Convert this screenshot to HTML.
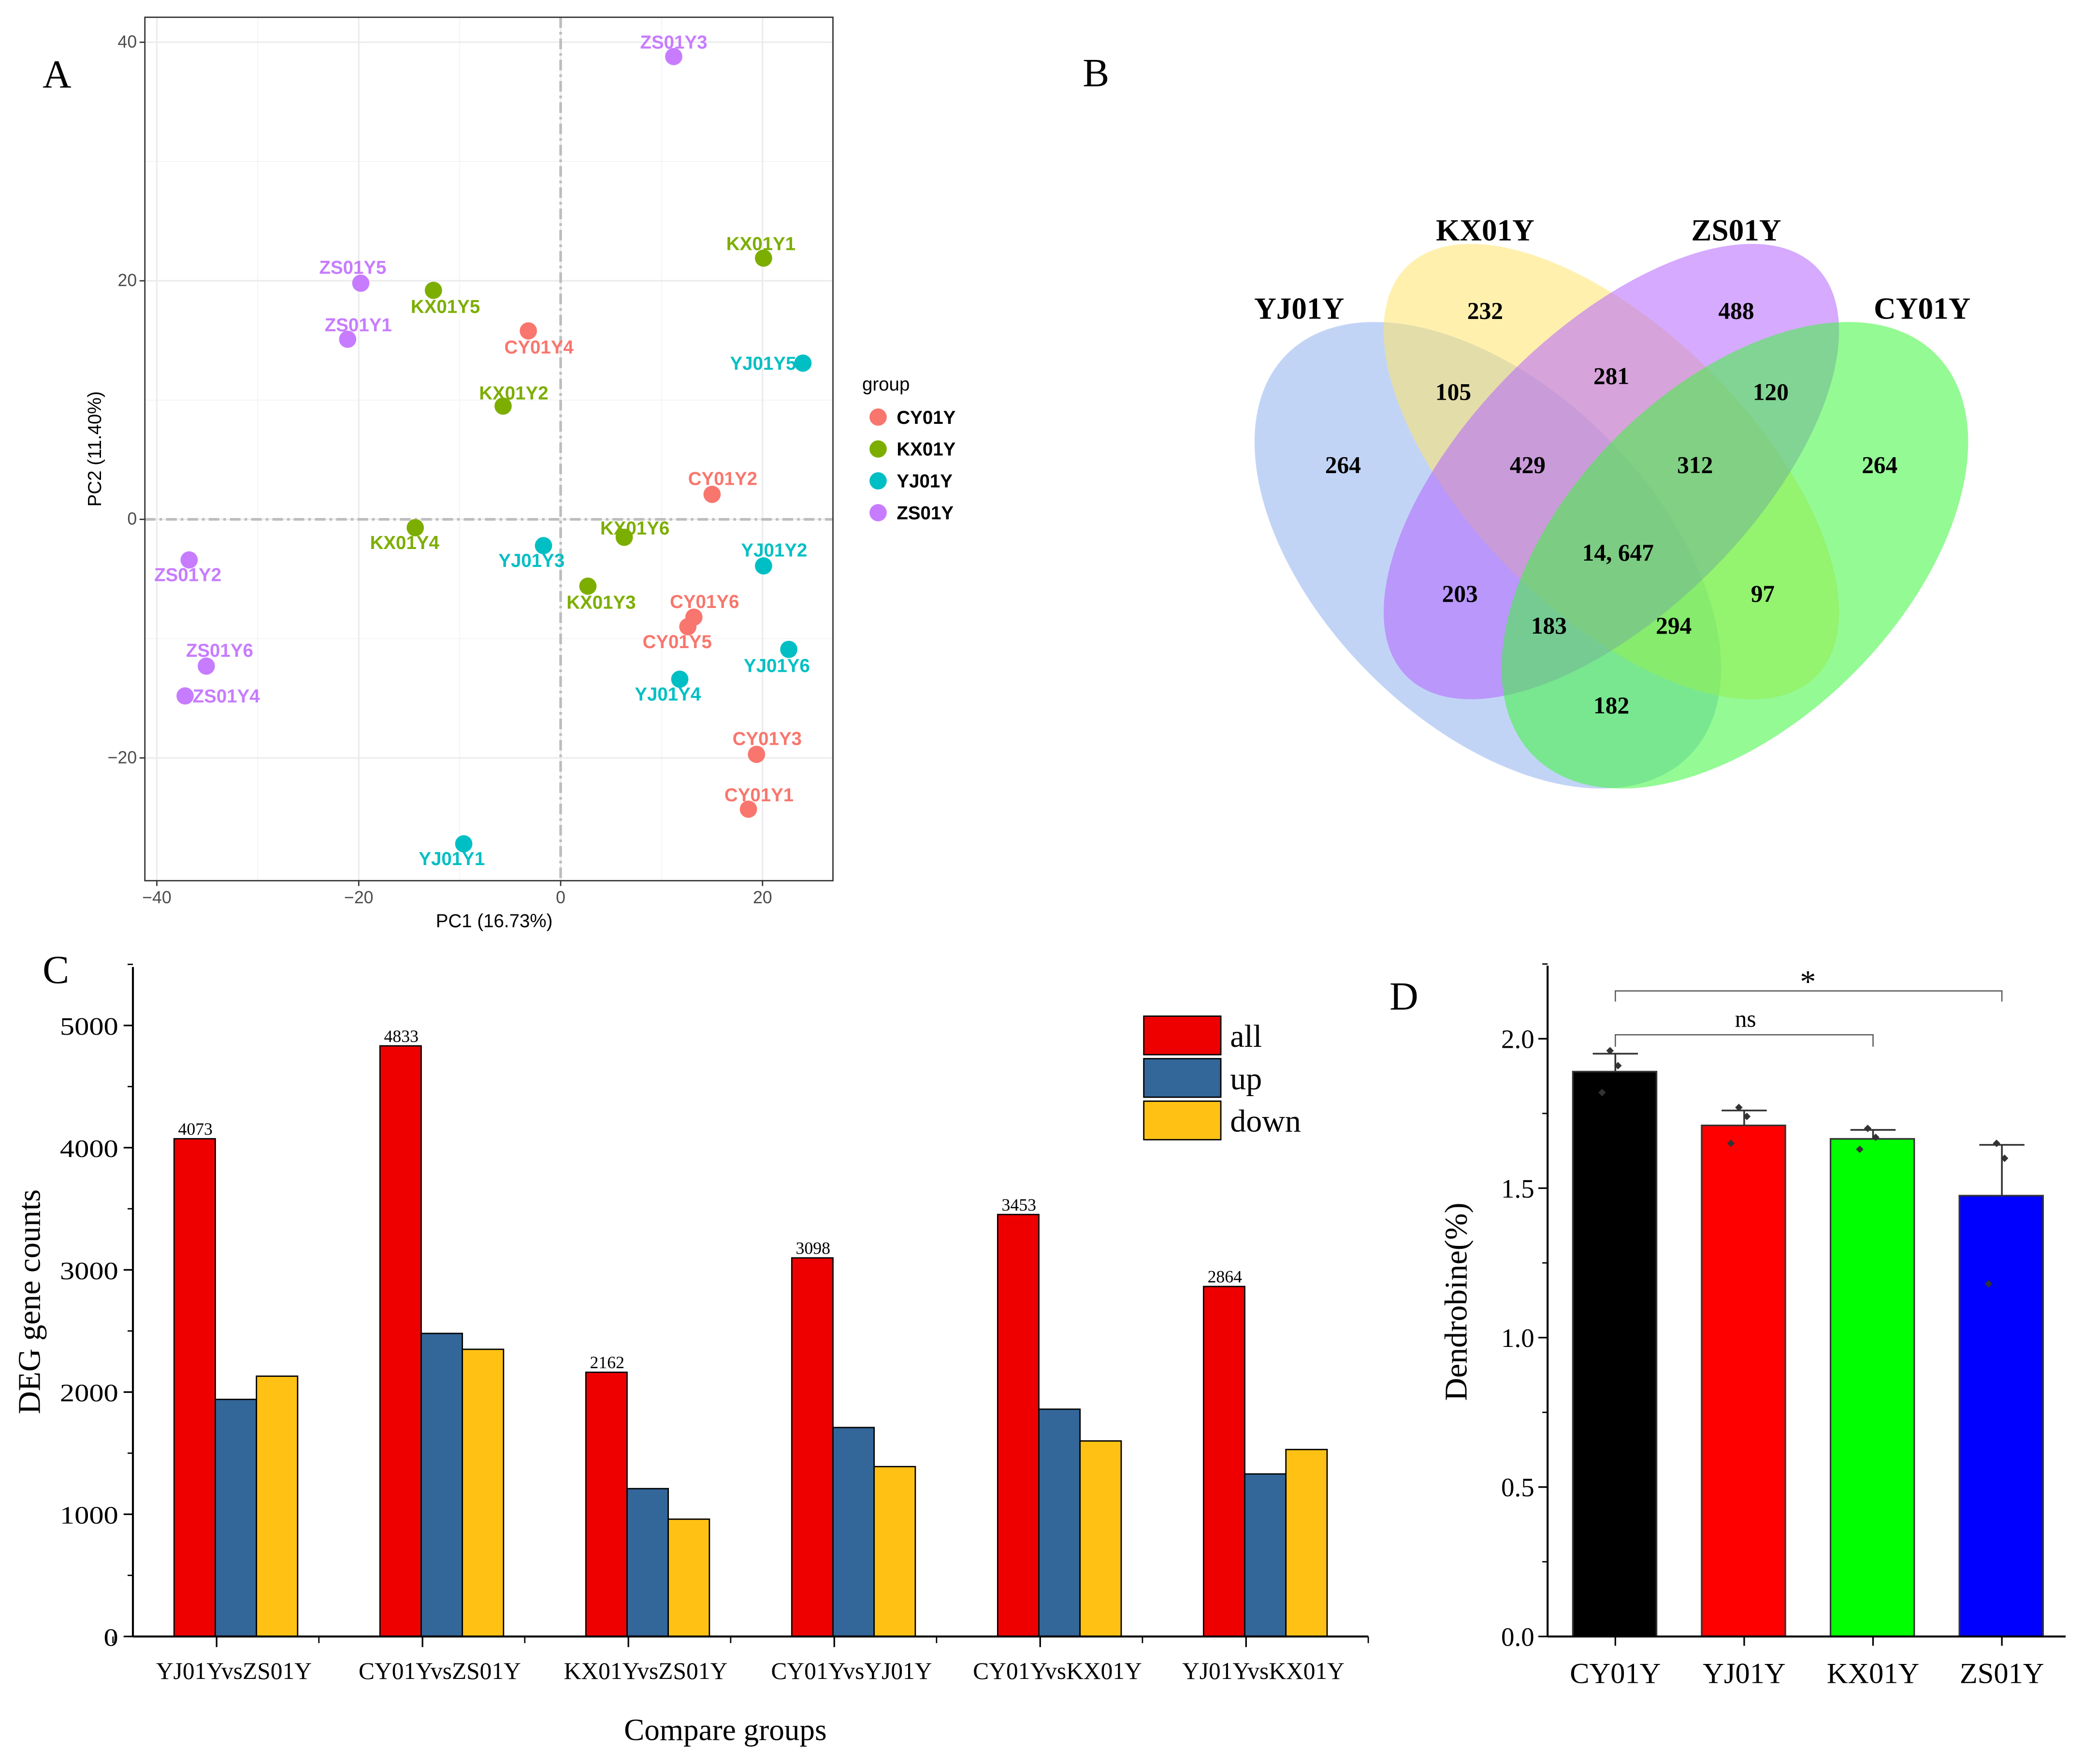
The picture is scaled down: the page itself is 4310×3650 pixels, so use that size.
<!DOCTYPE html>
<html><head><meta charset="utf-8"><style>
html,body{margin:0;padding:0;background:#fff}
svg{display:block}
.sans{font-family:"Liberation Sans",sans-serif}
.serif{font-family:"Liberation Serif",serif}
</style></head><body>
<svg id="root" xmlns="http://www.w3.org/2000/svg" width="4310" height="3650" viewBox="0 0 1568 1328">
<rect width="1568" height="1328" fill="#fff"/>
<g id="pA"></g>
<g id="pB"></g>
<g id="pC"></g>
<g id="pD"></g>
</svg>
<script>
// ---------- Panel A data ----------
const pcaNames=["ZS01Y3","KX01Y1","ZS01Y5","KX01Y5","ZS01Y1","CY01Y4","YJ01Y5","KX01Y2","CY01Y2","KX01Y4","YJ01Y3","KX01Y6","YJ01Y2","ZS01Y2","KX01Y3","CY01Y6","CY01Y5","YJ01Y6","ZS01Y6","ZS01Y4","YJ01Y4","CY01Y3","CY01Y1","YJ01Y1"];
const pcaPC1=[11.2,20.1,-19.8,-12.6,-21.1,-3.2,24,-5.7,15,-14.4,-1.7,6.3,20.1,-36.8,2.7,13.2,12.6,22.6,-35.1,-37.2,11.8,19.4,18.6,-9.6];
const pcaPC2=[38.8,21.9,19.8,19.2,15.1,15.8,13.1,9.5,2.1,-0.7,-2.2,-1.5,-3.9,-3.4,-5.6,-8.2,-9.0,-10.9,-12.3,-14.8,-13.4,-19.7,-24.3,-27.2];
const pcaLabelDx=[0,-2,-6,9,8,8,-30,8,8,-8,-9,8,8,-1,10,8,-8,-9,10,31,-9,8,8,-9];
const pcaLabelDy=[-11,-11,-12,12,-11,12,0,-10,-12,11,11,-7,-12,11,12,-12,11,12,-12,0,11,-12,-11,11];
const groups=["CY01Y","KX01Y","YJ01Y","ZS01Y"];
const groupColors=["#F8766D","#7CAE00","#00BFC4","#C77CFF"];
const xTicksA=[-40,-20,0,20];
const yTicksA=[40,20,0,-20];
// ---------- Panel B data ----------
const vennValues=["264","232","488","264","105","281","120","429","312","14, 647","203","97","183","294","182"];
// ---------- Panel C data ----------
const cmpGroups=["YJ01YvsZS01Y","CY01YvsZS01Y","KX01YvsZS01Y","CY01YvsYJ01Y","CY01YvsKX01Y","YJ01YvsKX01Y"];
const allCounts=[4073,4833,2162,3098,3453,2864];
const upCounts=[1940,2480,1210,1710,1860,1330];
const downCounts=[2130,2350,960,1390,1600,1530];
const yTicksC=[0,1000,2000,3000,4000,5000];
// ---------- Panel D data ----------
const dCats=["CY01Y","YJ01Y","KX01Y","ZS01Y"];
const dMeans=[1.89,1.71,1.665,1.475];
const dErr=[0.06,0.05,0.03,0.17];
const dPts=[[1.96,1.91,1.82],[1.77,1.74,1.65],[1.70,1.67,1.63],[1.65,1.60,1.18]];
const yTicksD=[0,0.5,1.0,1.5,2.0];

const NS="http://www.w3.org/2000/svg";
function mk(parent,tag,attrs,text){const e=document.createElementNS(NS,tag);for(const k in attrs)e.setAttribute(k,attrs[k]);if(text!==undefined)e.textContent=text;parent.appendChild(e);return e;}

// ===== Panel A =====
(function(){
const g=document.getElementById('pA');
const L=109,R=627,T=13,B=663;
const sx=v=>422+v*7.6, sy=v=>391-v*8.98;
let e=mk(g,'text',{x:32,y:66,'font-size':30,class:'serif'},'A');

e=mk(g,'rect',{x:L,y:T,width:R-L,height:B-T,fill:'#fff'});

[-30,-10,10].forEach(v=>{mk(g,'line',{x1:sx(v),x2:sx(v),y1:T,y2:B,stroke:'#f2f2f2','stroke-width':0.6});});
[30,10,-10].forEach(v=>{mk(g,'line',{x1:L,x2:R,y1:sy(v),y2:sy(v),stroke:'#f2f2f2','stroke-width':0.6});});
xTicksA.forEach(v=>{mk(g,'line',{x1:sx(v),x2:sx(v),y1:T,y2:B,stroke:'#ebebeb','stroke-width':1.1});
 mk(g,'line',{x1:sx(v),x2:sx(v),y1:B,y2:B+4,stroke:'#333'});
 const t=mk(g,'text',{x:sx(v),y:B+17,'font-size':13,'text-anchor':'middle',fill:'#4d4d4d',class:'sans'},v<0?'\u2212'+(-v):''+v);
 });
yTicksA.forEach(v=>{mk(g,'line',{x1:L,x2:R,y1:sy(v),y2:sy(v),stroke:'#ebebeb','stroke-width':1.1});
 mk(g,'line',{x1:L-4,x2:L,y1:sy(v),y2:sy(v),stroke:'#333'});
 const t=mk(g,'text',{x:L-6,y:sy(v)+4,'font-size':13,'text-anchor':'end',fill:'#4d4d4d',class:'sans'},v<0?'\u2212'+(-v):''+v);
 });
mk(g,'line',{x1:sx(0),x2:sx(0),y1:T,y2:B,stroke:'#bdbdbd','stroke-width':2,'stroke-dasharray':'8 3 2 3'});
mk(g,'line',{x1:L,x2:R,y1:sy(0),y2:sy(0),stroke:'#bdbdbd','stroke-width':2,'stroke-dasharray':'8 3 2 3'});
mk(g,'rect',{x:L,y:T,width:R-L,height:B-T,fill:'none',stroke:'#333','stroke-width':1});
for(let i=0;i<pcaNames.length;i++){
 const gi=groups.indexOf(pcaNames[i].slice(0,5));const c=groupColors[gi];
 const x=sx(pcaPC1[i]),y=sy(pcaPC2[i]);
 const p=mk(g,'circle',{cx:x,cy:y,r:6.5,fill:c});
 
 const t=mk(g,'text',{x:x+pcaLabelDx[i],y:y+pcaLabelDy[i]+5,'font-size':14,'font-weight':'bold','text-anchor':'middle',fill:c,class:'sans'},pcaNames[i]);
 
}
e=mk(g,'text',{x:372,y:698,'font-size':14,'text-anchor':'middle',class:'sans'},'PC1 (16.73%)');

e=mk(g,'text',{x:0,y:0,'font-size':14,'text-anchor':'middle',class:'sans',transform:'translate(76,338) rotate(-90)'},'PC2 (11.40%)');

e=mk(g,'text',{x:649,y:294,'font-size':14,class:'sans'},'group');

groups.forEach((n,i)=>{const y=314+i*24;
 const c=mk(g,'circle',{cx:661,cy:y,r:6.5,fill:groupColors[i]});
 
 const t=mk(g,'text',{x:675,y:y+5,'font-size':14,'font-weight':'bold',class:'sans'},n);
 });
})();

// ===== Panel B =====
(function(){
const g=document.getElementById('pB');
let e=mk(g,'text',{x:815,y:65,'font-size':30,class:'serif'},'B');

const ells=[[1120,418,214,126,45,'#8fb0ef','yj01y-ellipse'],[1213,355,218,106,45,'#ffe36b','kx01y-ellipse'],[1213,355,218,106,-45,'#b565ff','zs01y-ellipse'],[1306,418,214,126,-45,'#3df53d','cy01y-ellipse']];
ells.forEach(a=>{const el=mk(g,'ellipse',{cx:0,cy:0,rx:a[2],ry:a[3],fill:a[5],'fill-opacity':0.55,transform:`translate(${a[0]},${a[1]}) rotate(${a[4]})`});
 });
[['YJ01Y',978,240],['KX01Y',1118,181],['ZS01Y',1307,181],['CY01Y',1447,240]].forEach(a=>{
 const t=mk(g,'text',{x:a[1],y:a[2],'font-size':23,'font-weight':'bold','text-anchor':'middle',class:'serif'},a[0]);
 });
const pos=[[1011,350],[1118,234],[1307,234],[1415,350],[1094,295],[1213,283],[1333,295],[1150,350],[1276,350],[1218,416],[1099,447],[1327,447],[1166,471],[1260,471],[1213,531]];
vennValues.forEach((v,i)=>{const t=mk(g,'text',{x:pos[i][0],y:pos[i][1]+6,'font-size':18,'font-weight':'bold','text-anchor':'middle',class:'serif'},v);
 });
})();

// ===== Panel C =====
(function(){
const g=document.getElementById('pC');
const X0=100,X1=1030,Y0=1232,Ymax=728;
const sy=v=>Y0-v*0.092;
const gx=i=>177+i*155;
let e=mk(g,'text',{x:32,y:740,'font-size':30,class:'serif'},'C');

const series=[[allCounts,'#ee0000',-46],[upCounts,'#336699',-15],[downCounts,'#ffc214',16]];
const snames=['all','up','down'];
series.forEach((s,k)=>{s[0].forEach((v,i)=>{
 const r=mk(g,'rect',{x:gx(i)+s[2],y:sy(v),width:31,height:Y0-sy(v),fill:s[1],stroke:'#000','stroke-width':1});
 });});
allCounts.forEach((v,i)=>{const t=mk(g,'text',{x:gx(i)-30,y:sy(v)-3,'font-size':13,'text-anchor':'middle',class:'serif'},''+v);
 });
mk(g,'line',{x1:X0,x2:X0,y1:Ymax,y2:Y0,stroke:'#000','stroke-width':1.5});
mk(g,'line',{x1:X0,x2:X1,y1:Y0,y2:Y0,stroke:'#000','stroke-width':1.5});
for(let v=500;v<=5500;v+=1000){mk(g,'line',{x1:X0-4,x2:X0,y1:sy(v),y2:sy(v),stroke:'#000'});}
yTicksC.forEach(v=>{mk(g,'line',{x1:X0-7,x2:X0,y1:sy(v),y2:sy(v),stroke:'#000','stroke-width':1.2});
 const t=mk(g,'text',{x:X0-11,y:sy(v)+7,'font-size':19,'text-anchor':'end',class:'serif',textLength:String(v).length>1?44:11,lengthAdjust:'spacingAndGlyphs'},''+v);
 });
cmpGroups.forEach((n,i)=>{mk(g,'line',{x1:gx(i)-14,x2:gx(i)-14,y1:Y0,y2:Y0+8,stroke:'#000','stroke-width':1.2});
 mk(g,'line',{x1:gx(i)-92,x2:gx(i)-92,y1:Y0,y2:Y0+5,stroke:'#000'});
 const t=mk(g,'text',{x:gx(i)-1,y:Y0+32,'font-size':18,'text-anchor':'middle',class:'serif'},n);
 });
mk(g,'line',{x1:X1,x2:X1,y1:Y0,y2:Y0+5,stroke:'#000'});
e=mk(g,'text',{x:546,y:1310,'font-size':23,'text-anchor':'middle',class:'serif'},'Compare groups');

e=mk(g,'text',{x:0,y:0,'font-size':24,'text-anchor':'middle',class:'serif',transform:'translate(30,980) rotate(-90)'},'DEG gene counts');

series.forEach((s,k)=>{const y=765+k*32;
 const r=mk(g,'rect',{x:861,y:y,width:58,height:29,fill:s[1],stroke:'#000','stroke-width':1});
 
 const t=mk(g,'text',{x:926,y:y+23,'font-size':24,class:'serif'},snames[k]);
 });
})();

// ===== Panel D =====
(function(){
const g=document.getElementById('pD');
const X0=1165,X1=1555,Y0=1232,Ymax=727;
const sy=v=>Y0-v*225;
const cx=i=>1216+i*97;
const cols=['#000000','#ff0000','#00ff00','#0000ff'];
let e=mk(g,'text',{x:1046,y:760,'font-size':30,class:'serif'},'D');

dMeans.forEach((m,i)=>{
 const r=mk(g,'rect',{x:cx(i)-32,y:sy(m),width:63,height:Y0-sy(m),fill:cols[i],stroke:'#333','stroke-width':1.2});
 
 const top=sy(m+dErr[i]);
 const eb=mk(g,'path',{d:`M${cx(i)},${sy(m)}V${top}M${cx(i)-17},${top}H${cx(i)+17}`,stroke:'#333','stroke-width':1.3,fill:'none'});
 
 dPts[i].forEach((p,j)=>{const x=cx(i)+[-4,2,-10][j];
  const d=mk(g,'rect',{x:x-2,y:sy(p)-2,width:4,height:4,fill:'#333',transform:`rotate(45 ${x} ${sy(p)})`});
  });
});
mk(g,'line',{x1:X0,x2:X0,y1:Ymax,y2:Y0,stroke:'#000','stroke-width':1.5});
mk(g,'line',{x1:X0,x2:X1,y1:Y0,y2:Y0,stroke:'#000','stroke-width':1.5});
for(let v=0.25;v<2.3;v+=0.5){mk(g,'line',{x1:X0-4,x2:X0,y1:sy(v),y2:sy(v),stroke:'#000'});}
yTicksD.forEach(v=>{mk(g,'line',{x1:X0-7,x2:X0,y1:sy(v),y2:sy(v),stroke:'#000','stroke-width':1.2});
 const t=mk(g,'text',{x:X0-10,y:sy(v)+7,'font-size':20,'text-anchor':'end',class:'serif'},v.toFixed(1));
 });
dCats.forEach((n,i)=>{mk(g,'line',{x1:cx(i),x2:cx(i),y1:Y0,y2:Y0+7,stroke:'#000','stroke-width':1.2});
 const t=mk(g,'text',{x:cx(i),y:Y0+35,'font-size':22,'text-anchor':'middle',class:'serif'},n);
 });
e=mk(g,'text',{x:0,y:0,'font-size':24,'text-anchor':'middle',class:'serif',transform:'translate(1104,980) rotate(-90)'},'Dendrobine(%)');

e=mk(g,'path',{d:`M${cx(0)},788V779H${cx(2)}V788`,stroke:'#555','stroke-width':0.9,fill:'none'});

e=mk(g,'text',{x:1314,y:773,'font-size':18,'text-anchor':'middle',class:'serif'},'ns');

e=mk(g,'path',{d:`M${cx(0)},754V746H${cx(3)}V754`,stroke:'#555','stroke-width':0.9,fill:'none'});

e=mk(g,'text',{x:1361,y:747,'font-size':24,'text-anchor':'middle',class:'serif'},'*');

})();
</script>
</body></html>
